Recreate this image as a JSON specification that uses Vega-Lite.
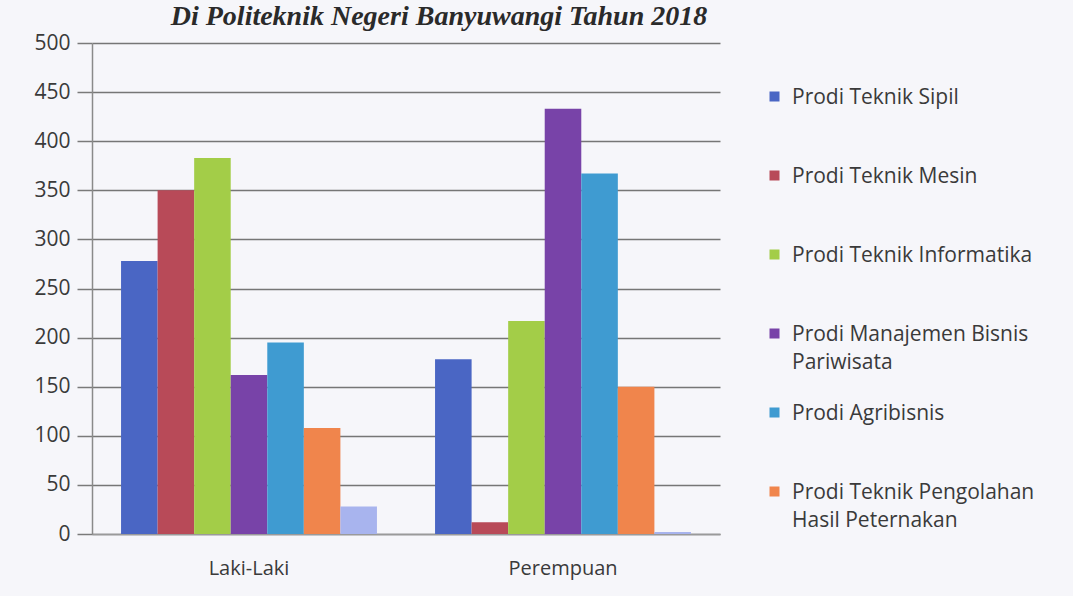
{
  "$schema": "https://vega.github.io/schema/vega-lite/v6.json",
  "autosize": {"type": "none"},
  "width": 628,
  "height": 491,
  "padding": {"left": 92, "top": 43, "right": 353, "bottom": 62},
  "background": "#f6f6fa",
  "title": {
    "text": "Di Politeknik Negeri Banyuwangi Tahun 2018",
    "font": "Liberation Serif",
    "fontSize": 28,
    "fontStyle": "italic",
    "fontWeight": "bold",
    "color": "#2a2a2a",
    "anchor": "middle",
    "frame": "group",
    "baseline": "alphabetic",
    "offset": -21,
    "dx": 33
  },
  "data": {
    "values": [
      {"jenis": "Laki-Laki", "prodi": "Prodi Teknik Sipil", "jumlah": 278},
      {"jenis": "Laki-Laki", "prodi": "Prodi Teknik Mesin", "jumlah": 350},
      {"jenis": "Laki-Laki", "prodi": "Prodi Teknik Informatika", "jumlah": 383},
      {"jenis": "Laki-Laki", "prodi": "Prodi Manajemen Bisnis Pariwisata", "jumlah": 162},
      {"jenis": "Laki-Laki", "prodi": "Prodi Agribisnis", "jumlah": 195},
      {"jenis": "Laki-Laki", "prodi": "Prodi Teknik Pengolahan Hasil Peternakan", "jumlah": 108},
      {"jenis": "Laki-Laki", "prodi": "Lainnya", "jumlah": 28},
      {"jenis": "Perempuan", "prodi": "Prodi Teknik Sipil", "jumlah": 178},
      {"jenis": "Perempuan", "prodi": "Prodi Teknik Mesin", "jumlah": 12},
      {"jenis": "Perempuan", "prodi": "Prodi Teknik Informatika", "jumlah": 217},
      {"jenis": "Perempuan", "prodi": "Prodi Manajemen Bisnis Pariwisata", "jumlah": 433},
      {"jenis": "Perempuan", "prodi": "Prodi Agribisnis", "jumlah": 367},
      {"jenis": "Perempuan", "prodi": "Prodi Teknik Pengolahan Hasil Peternakan", "jumlah": 150},
      {"jenis": "Perempuan", "prodi": "Lainnya", "jumlah": 2}
    ]
  },
  "mark": {"type": "bar"},
  "encoding": {
    "x": {
      "field": "jenis",
      "type": "nominal",
      "scale": {"paddingInner": 0.185, "paddingOuter": 0.0925},
      "axis": {
        "title": null,
        "labelAngle": 0,
        "ticks": false,
        "labelFont": "Open Sans",
        "labelFontSize": 20,
        "labelColor": "#3a3a3a",
        "labelPadding": 24,
        "domainColor": "#9a9a9a",
        "domainWidth": 1.5,
        "grid": false
      }
    },
    "xOffset": {
      "field": "prodi",
      "type": "nominal",
      "sort": ["Prodi Teknik Sipil", "Prodi Teknik Mesin", "Prodi Teknik Informatika", "Prodi Manajemen Bisnis Pariwisata", "Prodi Agribisnis", "Prodi Teknik Pengolahan Hasil Peternakan", "Lainnya"],
      "scale": {"paddingInner": 0, "paddingOuter": 0}
    },
    "y": {
      "field": "jumlah",
      "type": "quantitative",
      "scale": {"domain": [0, 500], "nice": false},
      "axis": {
        "title": null,
        "values": [0, 50, 100, 150, 200, 250, 300, 350, 400, 450, 500],
        "labelFont": "Open Sans",
        "labelFontSize": 21,
        "labelColor": "#3a3a3a",
        "labelPadding": 7,
        "tickSize": 15,
        "tickColor": "#7a7a7a",
        "tickWidth": 1.5,
        "domainColor": "#8a8a8a",
        "domainWidth": 1.5,
        "gridColor": "#767676",
        "gridWidth": 1.5
      }
    },
    "color": {
      "field": "prodi",
      "type": "nominal",
      "scale": {
        "domain": ["Prodi Teknik Sipil", "Prodi Teknik Mesin", "Prodi Teknik Informatika", "Prodi Manajemen Bisnis Pariwisata", "Prodi Agribisnis", "Prodi Teknik Pengolahan Hasil Peternakan", "Lainnya"],
        "range": ["#4a66c4", "#b84a58", "#a3cd48", "#7843a8", "#3f9bd1", "#f0854c", "#a8b4ee"]
      },
      "legend": {
        "title": null,
        "orient": "right",
        "offset": 1,
        "padding": 43,
        "values": ["Prodi Teknik Sipil", "Prodi Teknik Mesin", "Prodi Teknik Informatika", "Prodi Manajemen Bisnis Pariwisata", "Prodi Agribisnis", "Prodi Teknik Pengolahan Hasil Peternakan"],
        "labelExpr": "datum.label == 'Prodi Manajemen Bisnis Pariwisata' ? ['Prodi Manajemen Bisnis', 'Pariwisata'] : datum.label == 'Prodi Teknik Pengolahan Hasil Peternakan' ? ['Prodi Teknik Pengolahan', 'Hasil Peternakan'] : datum.label",
        "labelFont": "Open Sans",
        "labelFontSize": 21,
        "labelColor": "#3a3a3a",
        "labelLimit": 400,
        "labelOffset": 7,
        "labelBaseline": "alphabetic",
        "symbolType": "square",
        "symbolSize": 100,
        "symbolStrokeWidth": 0,
        "rowPadding": 29,
        "gridAlign": "all",
        "encode": {"labels": {"update": {"dy": {"value": 7}, "lineHeight": {"value": 28}}}}
      }
    }
  },
  "config": {
    "view": {"stroke": null}
  }
}
